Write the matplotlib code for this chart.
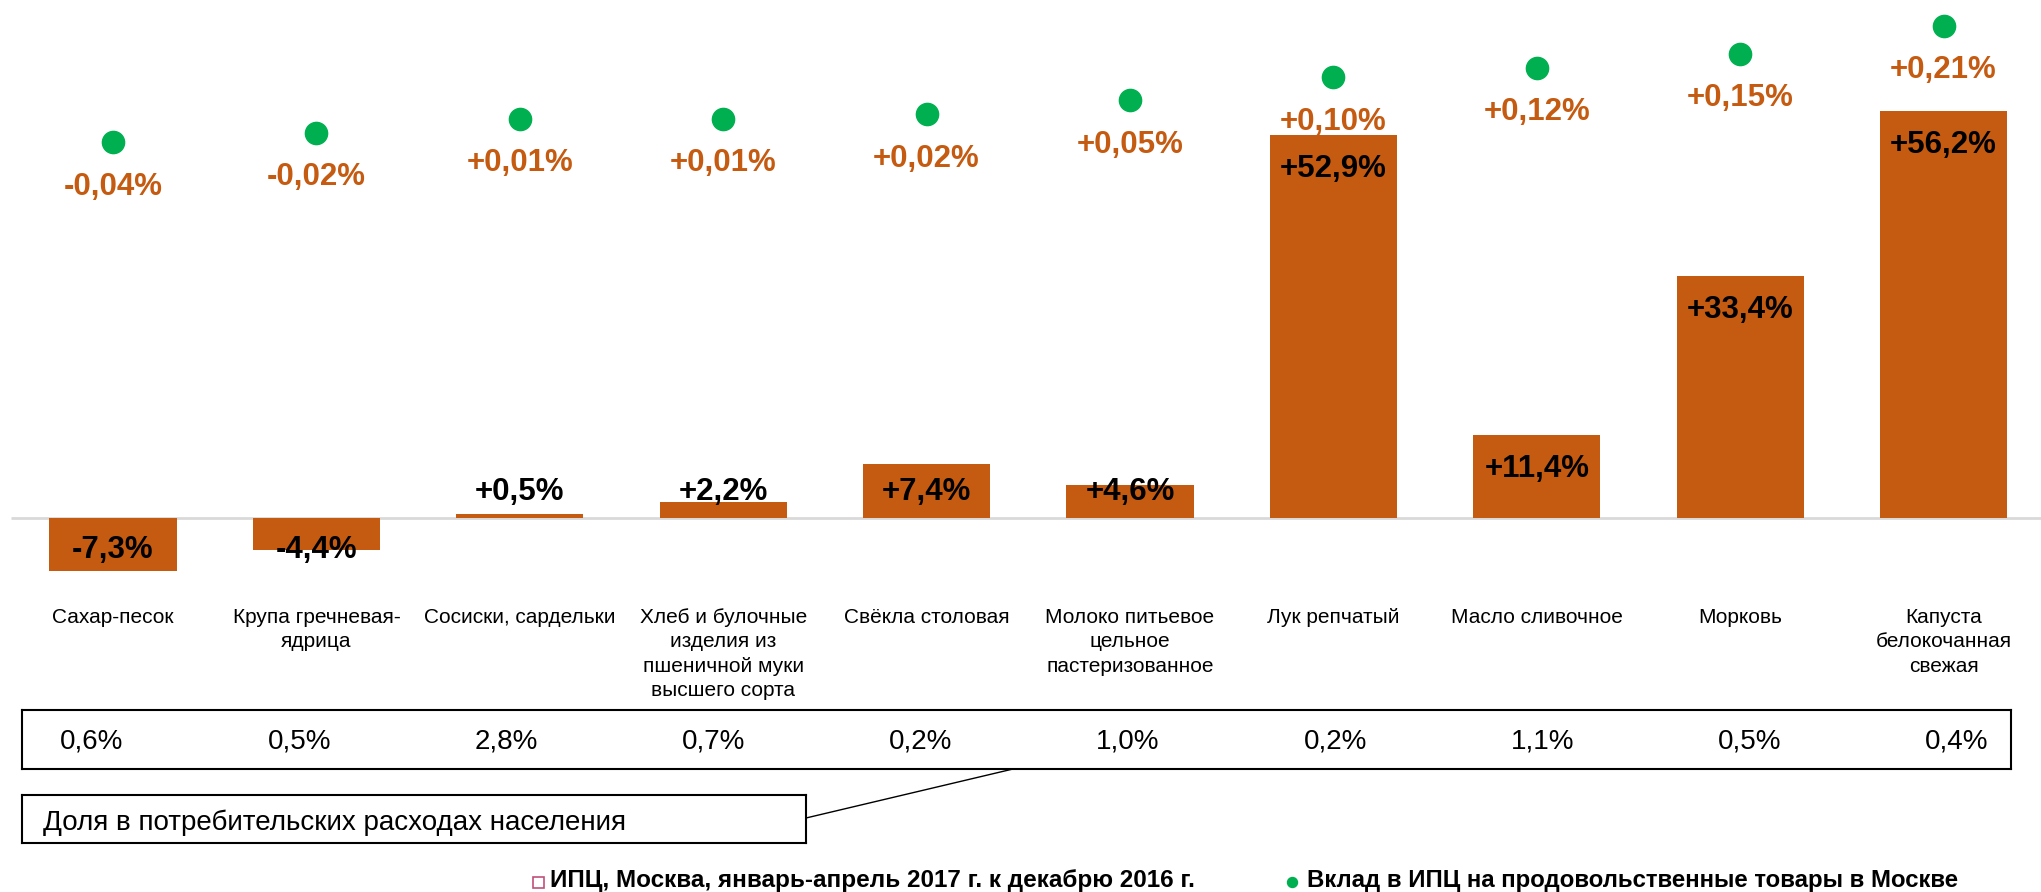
import numpy as np
import matplotlib
matplotlib.use('Agg')
import matplotlib.pyplot as plt
import matplotlib.transforms as mtransforms
from matplotlib.patches import Rectangle
from matplotlib.lines import Line2D

plt.rcParams['font.family'] = ['Liberation Sans', 'DejaVu Sans']

# data
categories = ['Сахар-песок', 'Крупа гречневая-\nядрица', 'Сосиски, сардельки',
              'Хлеб и булочные\nизделия из\nпшеничной муки\nвысшего сорта',
              'Свёкла столовая', 'Молоко питьевое\nцельное\nпастеризованное',
              'Лук репчатый', 'Масло сливочное', 'Морковь',
              'Капуста\nбелокочанная\nсвежая']
cpi_change = [-7.3, -4.4, 0.5, 2.2, 7.4, 4.6, 52.9, 11.4, 33.4, 56.2]
contribution = [-0.04, -0.02, 0.01, 0.01, 0.02, 0.05, 0.10, 0.12, 0.15, 0.21]
share = [0.6, 0.5, 2.8, 0.7, 0.2, 1.0, 0.2, 1.1, 0.5, 0.4]

orange = '#C55A11'
green = '#00B050'

W, H = 2041, 892
fig = plt.figure(figsize=(W / 100, H / 100), dpi=100)

def fy(px):
    # pixel row from top -> figure fraction
    return 1 - px / H

def fmt(v, nd):
    s = f'{v:.{nd}f}%'.replace('.', ',')
    return s if v < 0 else '+' + s

# main axes (bars)
ax = fig.add_axes([0, fy(600), 1, 600 / H])
x = np.arange(len(categories))
ax.bar(x, cpi_change, width=0.625, color=orange, zorder=2)
ax.set_xlim(-113 / 203.4, (W - 113) / 203.4)
ax.set_ylim(-82 / 7.242, 518 / 7.242)
ax.hlines(0, -0.5, 9.5, color='#D9D9D9', lw=2, zorder=1)
ax.axis('off')

for xi, v in zip(x, cpi_change):
    # inside end, but never closer to zero than the label height
    y_lab = np.sign(v) * max(abs(v) - 4.28, 4.0) - 0.4
    ax.text(xi, y_lab, fmt(v, 1), ha='center', va='center',
            fontsize=22.5, fontweight='bold', color='black', zorder=3)

# secondary axes (dots)
ax2 = ax.twinx()
ax2.set_ylim(-(600 - 123.7) / 465, 123.7 / 465)
ax2.plot(x, contribution, 'o', color=green, markersize=16, ls='none')
for xi, c in zip(x, contribution):
    ax2.annotate(fmt(c, 2), (xi, c), xytext=(0, -32), textcoords='offset points',
                 ha='center', va='center', fontsize=22.5, fontweight='bold',
                 color=orange)
ax2.axis('off')

# category labels
trans = mtransforms.blended_transform_factory(ax.transData, fig.transFigure)
for xi, name in zip(x, categories):
    ax.text(xi, fy(608), name, transform=trans, ha='center', va='top',
            fontsize=15, linespacing=1.35, clip_on=False)

# share table
tab = fig.add_axes([22 / W, fy(769), 1989 / W, 59 / H])
tab.set_xlim(-70 / 207.2, 1919 / 207.2)
tab.set_ylim(0, 1)
for i, s in enumerate(share):
    tab.text(i, 0.47, f'{s:.1f}%'.replace('.', ','), ha='center', va='center',
             fontsize=20)
tab.set_xticks([])
tab.set_yticks([])
for sp in tab.spines.values():
    sp.set_linewidth(1.5)

# callout box
box = fig.add_axes([22 / W, fy(843), 784 / W, 48 / H])
box.text(21 / 784, 0.43, 'Доля в потребительских расходах населения',
         ha='left', va='center', fontsize=20, transform=box.transAxes)
box.set_xticks([])
box.set_yticks([])
for sp in box.spines.values():
    sp.set_linewidth(1.5)
fig.add_artist(Line2D([806 / W, 1013 / W], [fy(818), fy(769)],
                      color='black', lw=1))

# legend
fig.add_artist(Rectangle((533 / W, fy(888)), 11 / W, 11 / H, fill=False,
                         edgecolor='#C0507A', lw=1.2, transform=fig.transFigure))
fig.text(550 / W, fy(887), 'ИПЦ, Москва, январь-апрель 2017 г. к декабрю 2016 г.',
         ha='left', va='baseline', fontsize=17.5, fontweight='bold')
fig.add_artist(Line2D([1292 / W], [fy(882)], marker='o', color=green,
                      markersize=7.2, ls='none'))
fig.text(1307 / W, fy(887), 'Вклад в ИПЦ на продовольственные товары в Москве',
         ha='left', va='baseline', fontsize=17.3, fontweight='bold')

fig.savefig('out.png', dpi=100)
